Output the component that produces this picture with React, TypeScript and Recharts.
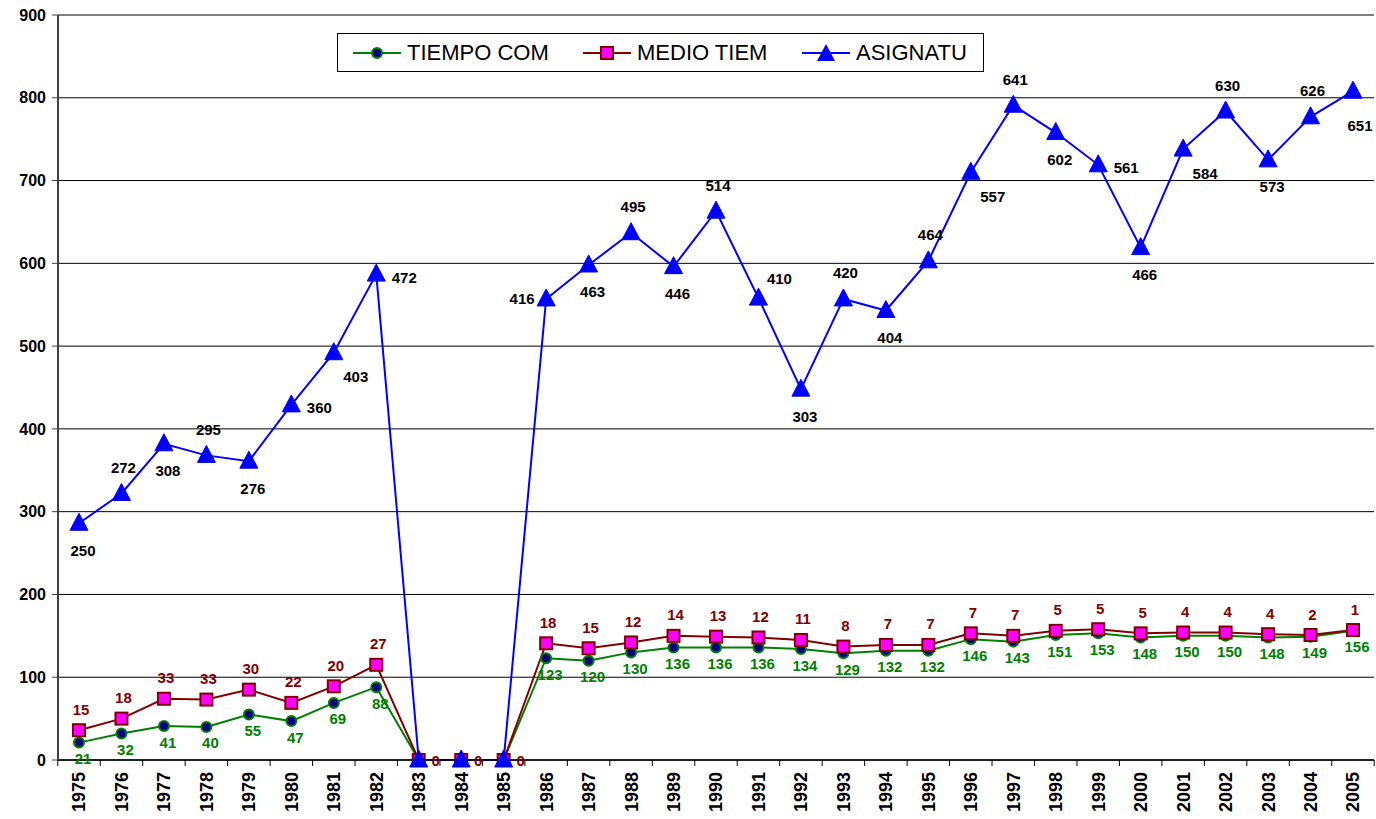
import { LineChart, Line, XAxis, YAxis, CartesianGrid, Legend, LabelList } from 'recharts';

const FONT = 'Arial, "Liberation Sans", sans-serif';

const years = [
  '1975', '1976', '1977', '1978', '1979', '1980', '1981', '1982', '1983', '1984', '1985',
  '1986', '1987', '1988', '1989', '1990', '1991', '1992', '1993', '1994', '1995', '1996',
  '1997', '1998', '1999', '2000', '2001', '2002', '2003', '2004', '2005',
];
const tiempoCom = [21, 32, 41, 40, 55, 47, 69, 88, 0, 0, 0, 123, 120, 130, 136, 136, 136, 134, 129, 132, 132, 146, 143, 151, 153, 148, 150, 150, 148, 149, 156];
const medioTiem = [15, 18, 33, 33, 30, 22, 20, 27, 0, 0, 0, 18, 15, 12, 14, 13, 12, 11, 8, 7, 7, 7, 7, 5, 5, 5, 4, 4, 4, 2, 1];
const asignatu = [250, 272, 308, 295, 276, 360, 403, 472, 0, 0, 0, 416, 463, 495, 446, 514, 410, 303, 420, 404, 464, 557, 641, 602, 561, 466, 584, 630, 573, 626, 651];
const yTicks = [0, 100, 200, 300, 400, 500, 600, 700, 800, 900];

// where each ASIGNATU label sits around its marker
const asigLabelPos = [
  'b', 'a', 'b', 'a', 'b', 'r', 'rb', 'r', '-', '-', '-', 'l', 'b', 'a', 'b', 'a',
  'ra', 'b', 'a', 'b', 'a', 'rb', 'a', 'b', 'r', 'b', 'rb', 'a', 'b', 'a', 'br',
];
const posOffset: Record<string, [number, number]> = {
  a: [2, -26],
  b: [4, 27],
  r: [28, 3],
  rb: [22, 24],
  ra: [21, -20],
  l: [-24, 0],
  br: [7, 34],
};

// lines are stacked, like the original sheet
const data = years.map((year, i) => ({
  year,
  tiempo: tiempoCom[i],
  medio: medioTiem[i],
  asig: asignatu[i],
  tiempoTop: tiempoCom[i],
  medioTop: tiempoCom[i] + medioTiem[i],
  asigTop: tiempoCom[i] + medioTiem[i] + asignatu[i],
}));

const W = 1376;
const H = 819;
const LEFT = 58;
const RIGHT_M = 2;
const PAD = 21;
const step = (W - LEFT - RIGHT_M - 2 * PAD) / (years.length - 1);

const XTick = (props: any) => {
  const { x, y, payload, index } = props;
  const half = step / 2;
  return (
    <g>
      <line x1={x - half} y1={y} x2={x - half} y2={y + 6} stroke="#000" />
      {index === years.length - 1 && <line x1={x + half} y1={y} x2={x + half} y2={y + 6} stroke="#000" />}
      <text
        x={x}
        y={y + 12}
        dy="0.36em"
        transform={`rotate(-90, ${x}, ${y + 12})`}
        textAnchor="end"
        fontFamily={FONT}
        fontWeight="bold"
        fontSize={18}
        fill="#000"
      >
        {payload.value}
      </text>
    </g>
  );
};

const Triangle = (props: any) => {
  const { cx, cy, index } = props;
  return (
    <polygon
      key={`tri-${index}`}
      points={`${cx},${cy - 10} ${cx + 9},${cy + 7} ${cx - 9},${cy + 7}`}
      fill="#0000FF"
      stroke="#0000FF"
    />
  );
};

const Square = (props: any) => {
  const { cx, cy, index } = props;
  return (
    <rect key={`sq-${index}`} x={cx - 6} y={cy - 6} width={12} height={12} fill="#FF00FF" stroke="#800000" strokeWidth={2} />
  );
};

const makeLabel = (color: string, place: (i: number, v: number) => [number, number] | null) => (props: any) => {
  const { x, y, value, index } = props;
  const off = place(index, value);
  if (!off) return null;
  return (
    <text
      key={`lb-${color}-${index}`}
      x={x + off[0]}
      y={y + off[1]}
      textAnchor="middle"
      dominantBaseline="central"
      fontFamily={FONT}
      fontWeight="bold"
      fontSize={15}
      fill={color}
    >
      {value}
    </text>
  );
};

const tiempoLabel = makeLabel('#008000', (_i, v) => (v === 0 ? null : [4, 16]));
const medioLabel = makeLabel('#800000', (_i, v) => (v === 0 ? [17, 0] : [2, -21]));
const asigLabel = makeLabel('#000', (i) => {
  const p = asigLabelPos[i];
  return posOffset[p] || null;
});

const legendItems = [
  { name: 'TIEMPO COM', color: '#008000', left: 15, mark: 'circle' },
  { name: 'MEDIO TIEM', color: '#800000', left: 245, mark: 'square' },
  { name: 'ASIGNATU', color: '#0000FF', left: 464, mark: 'triangle' },
];

const renderLegend = () => (
  <div
    style={{
      position: 'relative',
      height: 37,
      border: '1px solid #000',
      background: '#fff',
      fontFamily: FONT,
      fontSize: 22,
      color: '#000',
    }}
  >
    {legendItems.map((it) => (
      <div key={it.name} style={{ position: 'absolute', left: it.left, top: 0, height: 37, display: 'flex', alignItems: 'center' }}>
        <svg width={48} height={20} style={{ marginRight: 6 }}>
          <line x1={0} y1={10} x2={48} y2={10} stroke={it.color} strokeWidth={2} />
          {it.mark === 'circle' && <circle cx={24} cy={10} r={5} fill="#000080" stroke="#008000" strokeWidth={2} />}
          {it.mark === 'square' && <rect x={18} y={4} width={12} height={12} fill="#FF00FF" stroke="#800000" strokeWidth={2} />}
          {it.mark === 'triangle' && <polygon points="24,1 33,18 15,18" fill="#0000FF" />}
        </svg>
        <span>{it.name}</span>
      </div>
    ))}
  </div>
);

export default function App() {
  return (
    <div style={{ position: 'absolute', left: 0, top: 0, width: W, height: H, background: '#fff' }}>
      <LineChart width={W} height={H} data={data} margin={{ top: 15, right: RIGHT_M, left: 0, bottom: 0 }}>
        <CartesianGrid vertical={false} stroke="#000" strokeWidth={1} />
        <XAxis
          dataKey="year"
          height={59}
          interval={0}
          padding={{ left: PAD, right: PAD }}
          tickLine={false}
          tickSize={0}
          tickMargin={0}
          tick={<XTick />}
          axisLine={{ stroke: '#000', strokeWidth: 1.5 }}
        />
        <YAxis
          width={LEFT}
          domain={[0, 900]}
          ticks={yTicks}
          interval={0}
          tickSize={6}
          tickMargin={6}
          axisLine={{ stroke: '#404040', strokeWidth: 2 }}
          tickLine={{ stroke: '#404040' }}
          tick={{ fontFamily: FONT, fontWeight: 'bold', fontSize: 16, fill: '#000' }}
        />
        <YAxis
          yAxisId="frame"
          orientation="right"
          width={0}
          domain={[0, 900]}
          tick={false}
          tickLine={false}
          axisLine={{ stroke: '#808080', strokeWidth: 1.5 }}
        />
        <Legend
          layout="horizontal"
          verticalAlign="middle"
          align="center"
          content={renderLegend}
          wrapperStyle={{ top: 33, left: 337, width: 647, height: 39 }}
        />
        <Line
          dataKey="tiempoTop"
          name="TIEMPO COM"
          stroke="#008000"
          strokeWidth={2}
          dot={{ r: 5, fill: '#000080', stroke: '#008000', strokeWidth: 2 }}
          isAnimationActive={false}
        >
          <LabelList dataKey="tiempo" content={tiempoLabel} />
        </Line>
        <Line
          dataKey="medioTop"
          name="MEDIO TIEM"
          stroke="#800000"
          strokeWidth={2}
          dot={<Square />}
          isAnimationActive={false}
        >
          <LabelList dataKey="medio" content={medioLabel} />
        </Line>
        <Line
          dataKey="asigTop"
          name="ASIGNATU"
          stroke="#0000FF"
          strokeWidth={2}
          dot={<Triangle />}
          isAnimationActive={false}
        >
          <LabelList dataKey="asig" content={asigLabel} />
        </Line>
      </LineChart>
    </div>
  );
}
